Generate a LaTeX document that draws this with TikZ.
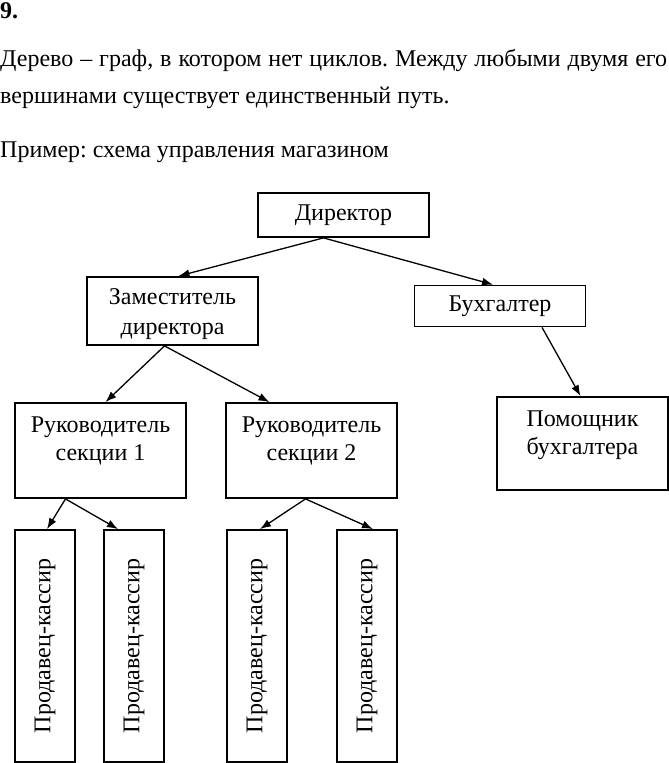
\documentclass[tikz,border=0pt]{standalone}
\usepackage{fontspec}
\setmainfont{Liberation Serif}
\usetikzlibrary{arrows.meta}
\tikzset{
  box/.style={draw, line width=1.8pt, inner sep=0pt},
  txt/.style={font=\fontsize{24}{29}\selectfont, align=center, inner sep=0pt},
  fleche/.style={-{Latex[length=11pt,width=8pt]}, line width=1.3pt}
}
\begin{document}
\frenchspacing
\begin{tikzpicture}
                    [x=1pt,y=-1pt]
                    \useasboundingbox (0,0) rectangle (669,763);

                    % Texte
                    \node (num) at (0,18) [anchor=base west, inner sep=0pt, font=\fontsize{24}{29}\selectfont\bfseries] {9.};
                    \node (def) at (0,66) [anchor=base west, inner sep=0pt, text width=667pt, align=justify, font=\fontsize{24}{37}\selectfont] {Дерево -- граф, в котором нет циклов. Между любыми двумя его\linebreak вершинами существует единственный путь.};
                    \node (ex) at (0,157) [anchor=base west, inner sep=0pt, font=\fontsize{24}{29}\selectfont] {Пример: схема управления магазином};

                    % Boites
                    \node (dir) at (343.5,215) [box, minimum width=171pt, minimum height=44pt] {};
                    \node (zam) at (172.5,311) [box, minimum width=171pt, minimum height=68pt] {};
                    \node (buh) at (500,306) [box, minimum width=171pt, minimum height=41pt] {};
                    \node (ruk1) at (100.5,450.5) [box, minimum width=171pt, minimum height=95pt] {};
                    \node (ruk2) at (311.5,450.5) [box, minimum width=171pt, minimum height=95pt] {};
                    \node (pom) at (582.5,443.5) [box, minimum width=171pt, minimum height=93pt] {};
                    \node (pk1) at (45,646) [box, minimum width=60pt, minimum height=232pt] {};
                    \node (pk2) at (134,646) [box, minimum width=60pt, minimum height=232pt] {};
                    \node (pk3) at (257,646) [box, minimum width=60pt, minimum height=232pt] {};
                    \node (pk4) at (367,646) [box, minimum width=60pt, minimum height=232pt] {};

                    % Textes des boites
                    \node (dirT) at (dir) [txt] {Директор};
                    \node (zamT) at ([yshift=-3pt]zam.center) [txt, font=\fontsize{24}{30}\selectfont] {Заместитель\\директора};
                    \node (buhT) at (buh) [txt] {Бухгалтер};
                    \node (ruk1T) at ([yshift=10pt]ruk1.center) [txt, font=\fontsize{24}{28}\selectfont] {Руководитель\\секции 1};
                    \node (ruk2T) at ([yshift=10pt]ruk2.center) [txt, font=\fontsize{24}{28}\selectfont] {Руководитель\\секции 2};
                    \node (pomT) at ([yshift=8pt]pom.center) [txt, font=\fontsize{24}{28}\selectfont] {Помощник\\бухгалтера};
                    \foreach \k in {1,...,4} {\node (pk\k T) at (pk\k) [txt, rotate=90] {Продавец-кассир};}

                    % Fleches
                    \draw [fleche] ([xshift=-20pt]dir.south) -- ([xshift=6pt]zam.north);
                    \draw [fleche] ([xshift=-20pt]dir.south) -- ([xshift=-7pt]buh.north);
                    \draw [fleche] ([xshift=-8pt]zam.south) -- ([xshift=5pt]ruk1.north);
                    \draw [fleche] ([xshift=-8pt]zam.south) -- ([xshift=-42pt]ruk2.north);
                    \draw [fleche] ([xshift=42pt]buh.south) -- ([xshift=-2pt]pom.north);
                    \draw [fleche] ([xshift=-35pt]ruk1.south) -- ([xshift=2pt]pk1.north);
                    \draw [fleche] ([xshift=-35pt]ruk1.south) -- ([xshift=-16pt]pk2.north);
                    \draw [fleche] ([xshift=-6pt]ruk2.south) -- ([xshift=3pt]pk3.north);
                    \draw [fleche] ([xshift=-6pt]ruk2.south) -- ([xshift=6pt]pk4.north);
                \end{tikzpicture}
\end{document}
